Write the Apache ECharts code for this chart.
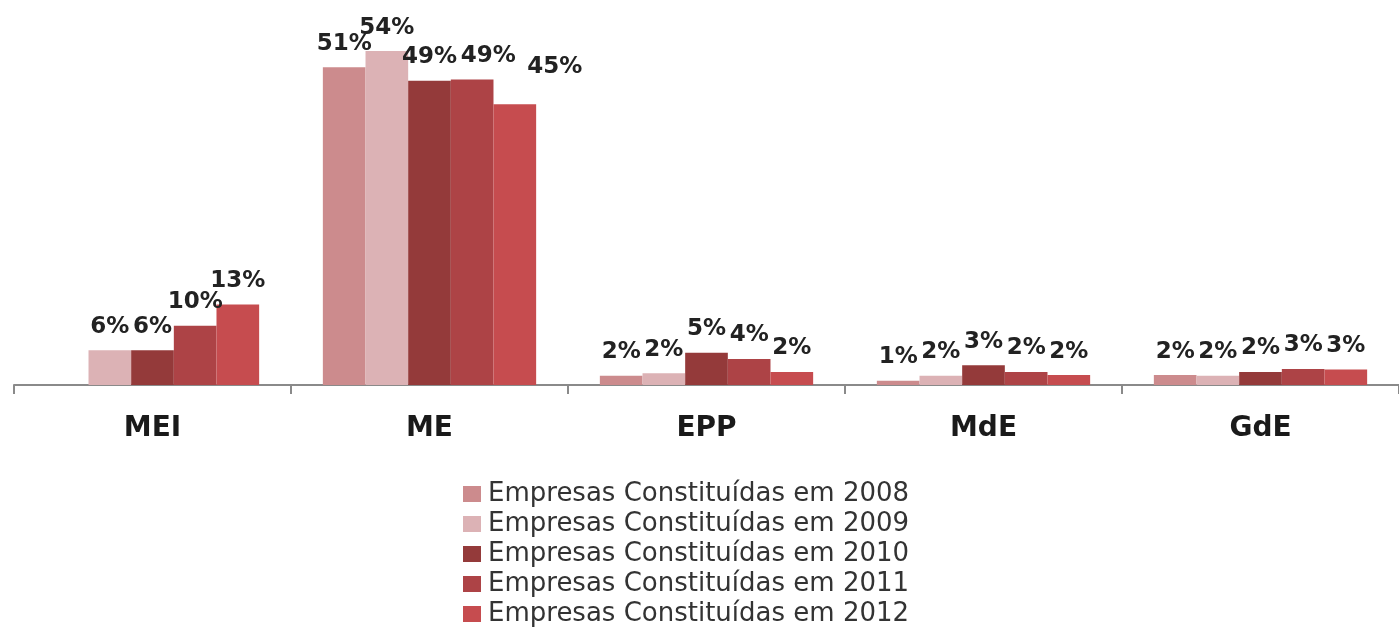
<!DOCTYPE html>
<html>
<head>
<meta charset="utf-8">
<script src="https://cdn.jsdelivr.net/npm/echarts@6/dist/echarts.min.js"></script>
<style>html,body{margin:0;padding:0;background:#fff}#c{width:1399px;height:635px}</style>
</head>
<body>
<div id="c"></div>
<script>
const categories = ['MEI', 'ME', 'EPP', 'MdE', 'GdE'];
const seriesNames = [
  'Empresas Constituídas em 2008',
  'Empresas Constituídas em 2009',
  'Empresas Constituídas em 2010',
  'Empresas Constituídas em 2011',
  'Empresas Constituídas em 2012'
];
const v2008 = [null, 51.4, 1.5, 0.7, 1.6];
const v2009 = [5.6, 54.0, 1.9, 1.5, 1.5];
const v2010 = [5.6, 49.2, 5.2, 3.2, 2.1];
const v2011 = [9.6, 49.4, 4.2, 2.1, 2.6];
const v2012 = [13.0, 45.4, 2.1, 1.6, 2.5];
const allValues = [v2008, v2009, v2010, v2011, v2012];

const colors = ['#cc8b8d', '#dcb2b5', '#943a3a', '#ad4346', '#c64c4f'];
const labelFont = 'DejaVu Sans';

// label placement tweaks (series index, category index) -> offset
const labelOffsets = { '4,1': [40, -14], '3,1': [16, 0] };

const series = allValues.map((vals, si) => ({
  name: seriesNames[si],
  type: 'bar',
  barGap: '0%',
  barCategoryGap: '23%',
  itemStyle: { color: colors[si] },
  data: vals.map((v, ci) => {
    const off = labelOffsets[si + ',' + ci];
    return off ? { value: v, label: { offset: off } } : v;
  }),
  label: {
    show: true,
    position: 'top',
    distance: 12,
    formatter: p => (p.value == null ? '' : Math.round(p.value) + '%'),
    fontFamily: labelFont,
    fontWeight: 'bold',
    fontSize: 23,
    color: '#222'
  }
}));

const chart = echarts.init(document.getElementById('c'));
chart.setOption({
  animation: false,
  color: colors,
  grid: { left: 14, right: -6, top: 14, bottom: 250 },
  xAxis: {
    type: 'category',
    data: categories,
    axisLine: { lineStyle: { color: '#8a8a8a', width: 2 } },
    axisTick: { show: true, length: 9, lineStyle: { color: '#8a8a8a', width: 2 } },
    axisLabel: {
      margin: 30,
      fontFamily: labelFont,
      fontWeight: 'bold',
      fontSize: 28,
      color: '#1a1a1a'
    }
  },
  yAxis: { type: 'value', min: 0, max: 60, show: false, splitLine: { show: false } },
  legend: {
    orient: 'vertical',
    left: 458,
    top: 476,
    height: 170,
    itemWidth: 18,
    itemHeight: 16,
    itemGap: 4,
    icon: 'rect',
    textStyle: { fontFamily: labelFont, fontSize: 26, lineHeight: 26, color: '#333', padding: [0, 0, 0, 2] },
    data: seriesNames
  },
  series: series
});
</script>
</body>
</html>
